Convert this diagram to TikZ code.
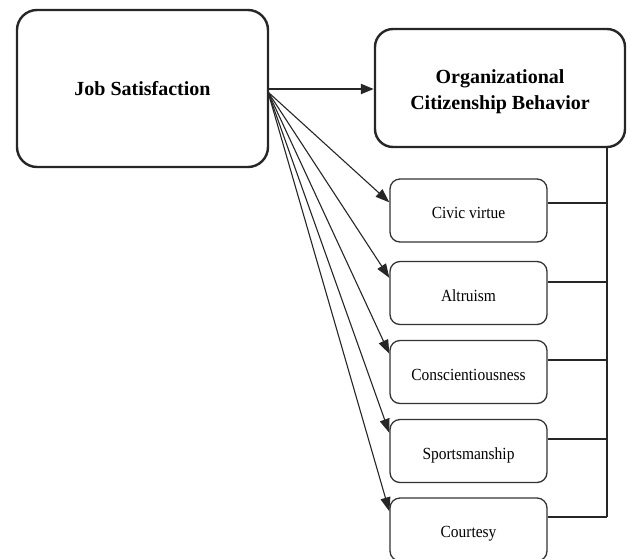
\documentclass[tikz,border=0pt]{standalone}
\usepackage{fontspec}
\setmainfont{Liberation Serif}
\newfontfamily\dimfont[FakeStretch=0.91]{Liberation Serif}
\usetikzlibrary{arrows.meta}
\begin{document}
\begin{tikzpicture}[x=1pt,y=-1pt,
  mainbox/.style={draw=black!85, line width=2.4pt, rounded corners=20pt, inner sep=0pt},
  maintext/.style={font=\fontsize{20}{26}\selectfont\bfseries, align=center},
  dimbox/.style={draw=black!80, line width=1.3pt, rounded corners=10pt,
    minimum width=157pt, minimum height=63pt, inner sep=0pt,
    text height=16pt, text depth=0pt,
    font=\dimfont\fontsize{17}{20}\selectfont},
  bigarrow/.style={draw=black!85, line width=2.2pt, -{Triangle[length=13pt,width=10pt]}},
  fanarrow/.style={draw=black!85, line width=1.1pt, -{Triangle[length=14pt,width=10pt]}},
  link/.style={draw=black!85, line width=1.1pt}]
  \useasboundingbox (0,0) rectangle (627,558);
  \clip (0,0) rectangle (627,558);

  % main constructs
  \node[mainbox, maintext, minimum width=251pt, minimum height=157pt] (js) at (142.5,88.5)
    {Job Satisfaction};
  \node[mainbox, rounded corners=18pt, minimum width=250pt, minimum height=118pt,
    label={[maintext, yshift=-4pt]center:Organizational\\Citizenship Behavior}] (ocb) at (500,88) {};

  % OCB dimensions
  \node[dimbox] (civ) at (468.5,210.5) {Civic virtue};
  \node[dimbox] (alt) at (468.5,293) {Altruism};
  \node[dimbox] (con) at (468.5,372) {Conscientiousness};
  \node[dimbox] (spo) at (468.5,451) {Sportsmanship};
  \node[dimbox] (cou) at (468.5,529.5) {Courtesy};

  % direct effect on OCB
  \draw[bigarrow] (js.east |- 0,89) -- (ocb.west |- 0,89);

  % fan of effects on each dimension
  \coordinate (fan) at (268,92);
  \draw[fanarrow] (fan) -- ([yshift=-24pt]civ.north west);
  \draw[fanarrow] (fan) -- ([yshift=-17pt]alt.north west);
  \draw[fanarrow] (fan) -- ([yshift=-14pt]con.north west);
  \draw[fanarrow] (fan) -- ([yshift=-14pt]spo.north west);
  \draw[fanarrow] (fan) -- ([yshift=-14pt]cou.north west);

  % bracket tying the dimensions to OCB
  \coordinate (bus) at (607,0);
  \draw[link] (bus |- ocb.south) -- (bus |- 0,517);
  \foreach \n/\y in {civ/203,alt/282,con/360,spo/439,cou/517}
    \draw[link] (\n.east |- 0,\y) -- (bus |- 0,\y);
\end{tikzpicture}
\end{document}
